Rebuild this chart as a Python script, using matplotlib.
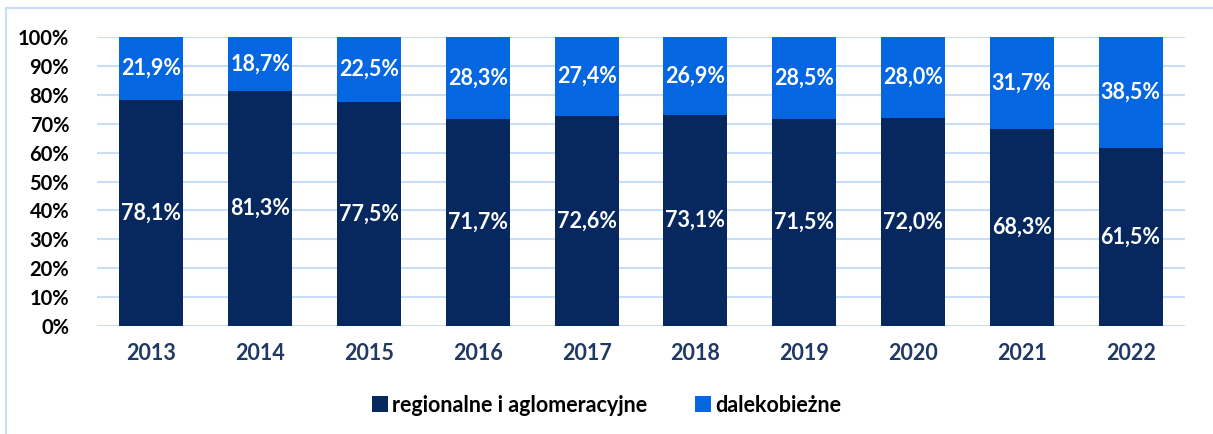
import matplotlib.pyplot as plt
from matplotlib.patches import Rectangle
from matplotlib.ticker import PercentFormatter

plt.rcParams['font.family'] = ['Lato', 'DejaVu Sans']

years = ['2013', '2014', '2015', '2016', '2017', '2018', '2019', '2020', '2021', '2022']
regional = [78.1, 81.3, 77.5, 71.7, 72.6, 73.1, 71.5, 72.0, 68.3, 61.5]
longdist = [21.9, 18.7, 22.5, 28.3, 27.4, 26.9, 28.5, 28.0, 31.7, 38.5]

c_dark = '#06285E'
c_blue = '#0466E0'
c_grid = '#C9DDF7'

fig = plt.figure(figsize=(12.13, 4.34), dpi=100)
ax = fig.add_axes([97 / 1213, 1 - 326 / 434, 1088 / 1213, 289 / 434])

x = range(len(years))
ax.bar(x, regional, width=0.59, color=c_dark, label='regionalne i aglomeracyjne', zorder=3)
ax.bar(x, longdist, width=0.59, bottom=regional, color=c_blue, label='dalekobieżne', zorder=3)

for i in x:
    ax.text(i, regional[i] / 2, f'{regional[i]:.1f}%'.replace('.', ','), ha='center', va='center',
            color='white', fontsize=15.5, fontweight='bold', zorder=4)
    ax.text(i, regional[i] + longdist[i] / 2, f'{longdist[i]:.1f}%'.replace('.', ','), ha='center',
            va='center', color='white', fontsize=15.5, fontweight='bold', zorder=4)

ax.set_xlim(-0.5, len(years) - 0.5)
ax.set_ylim(0, 100)
ax.set_yticks(range(0, 101, 10))
ax.yaxis.set_major_formatter(PercentFormatter(decimals=0))
ax.set_xticks(list(x))
ax.set_xticklabels(years)
ax.grid(axis='y', color=c_grid, linewidth=1.5, zorder=0)
for s in ax.spines.values():
    s.set_visible(False)
ax.tick_params(length=0)
ax.tick_params(axis='y', labelsize=14.5, pad=20)
ax.tick_params(axis='x', labelsize=15.5, pad=12, labelcolor='#1F3864')
for t in ax.get_yticklabels() + ax.get_xticklabels():
    t.set_fontweight('bold')

fig.legend(loc='center', bbox_to_anchor=(0.5, 1 - 405 / 434), ncol=2, frameon=False,
           prop={'size': 15.5, 'weight': 'bold'}, handlelength=0.75, handleheight=0.75,
           handletextpad=0.2, columnspacing=2.2)

fig.patches.append(Rectangle((6 / 1213, -0.01), 1.0, 1 - 8 / 434 + 0.01, transform=fig.transFigure,
                             fill=False, edgecolor=c_grid, linewidth=1.5))

fig.savefig('out.png', dpi=100)
